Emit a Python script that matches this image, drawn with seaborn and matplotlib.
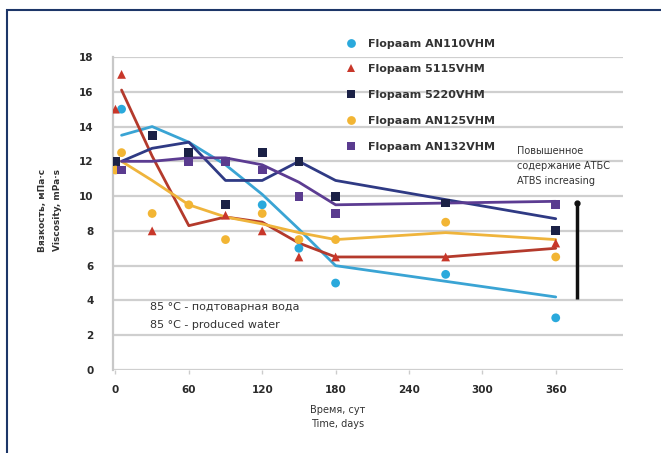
import matplotlib
matplotlib.use("Agg")
import matplotlib.pyplot as plt
import seaborn as sns
import pandas as pd
from matplotlib.patches import Rectangle

# ---- data ----
series_names = ["Flopaam AN110VHM", "Flopaam 5115VHM", "Flopaam 5220VHM",
                "Flopaam AN125VHM", "Flopaam AN132VHM"]
colors = ["#2aa9dc", "#c8372a", "#1b2146", "#f2b534", "#5a3b8f"]
line_colors = ["#3aa4d4", "#b43a2c", "#2f3a84", "#efb43c", "#5c3c92"]
markers = ["o", "^", "s", "o", "s"]

line_days = [5, 30, 60, 90, 120, 150, 180, 270, 360]
line_an110 = [13.5, 14.0, 13.1, 11.8, 10.1, 8.1, 6.0, 5.1, 4.2]
line_5115 = [16.1, 12.3, 8.3, 8.8, 8.5, 7.3, 6.5, 6.5, 7.0]
line_5220 = [12.0, 12.75, 13.1, 10.9, 10.9, 12.0, 10.9, 9.8, 8.7]
line_an125 = [12.0, 10.9, 9.5, 8.8, 8.4, 7.9, 7.5, 7.9, 7.5]
line_an132 = [12.0, 12.0, 12.2, 12.2, 11.8, 10.8, 9.5, 9.6, 9.7]

pts_an110_x = [5, 120, 150, 180, 270, 360]
pts_an110_y = [15.0, 9.5, 7.0, 5.0, 5.5, 3.0]
pts_5115_x = [0, 5, 30, 90, 120, 150, 180, 270, 360]
pts_5115_y = [15.0, 17.0, 8.0, 8.9, 8.0, 6.5, 6.5, 6.5, 7.3]
pts_5220_x = [0, 30, 60, 90, 120, 150, 180, 270, 360]
pts_5220_y = [12.0, 13.5, 12.5, 9.5, 12.5, 12.0, 10.0, 9.6, 8.0]
pts_an125_x = [0, 5, 30, 60, 90, 120, 150, 180, 270, 360]
pts_an125_y = [11.5, 12.5, 9.0, 9.5, 7.5, 9.0, 7.5, 7.5, 8.5, 6.5]
pts_an132_x = [5, 60, 90, 120, 150, 180, 360]
pts_an132_y = [11.5, 12.0, 12.0, 11.5, 10.0, 9.0, 9.5]

x_ticks = [0, 60, 120, 180, 240, 300, 360]
y_ticks = [0, 2, 4, 6, 8, 10, 12, 14, 16, 18]

atbs_day = 377
atbs_range = [4.1, 9.6]

# ---- build frames ----
line_vals = [line_an110, line_5115, line_5220, line_an125, line_an132]
pts = [(pts_an110_x, pts_an110_y), (pts_5115_x, pts_5115_y), (pts_5220_x, pts_5220_y),
       (pts_an125_x, pts_an125_y), (pts_an132_x, pts_an132_y)]
line_df = pd.concat([pd.DataFrame({"day": line_days, "visc": v, "series": n})
                     for n, v in zip(series_names, line_vals)], ignore_index=True)
pts_df = pd.concat([pd.DataFrame({"day": px, "visc": py, "series": n})
                    for n, (px, py) in zip(series_names, pts)], ignore_index=True)

sns.set_theme(style="whitegrid")
plt.rcParams["font.family"] = ["DejaVu Sans"]

fig = plt.figure(figsize=(6.61, 4.53), dpi=100)
ax = fig.add_axes([113/661, 1-370/453, (623-113)/661, (370-57)/453])

sns.lineplot(data=line_df, x="day", y="visc", hue="series", hue_order=series_names,
             palette=dict(zip(series_names, line_colors)), lw=2.0, legend=False, ax=ax,
             zorder=3)
sns.scatterplot(data=pts_df, x="day", y="visc", hue="series", style="series",
                hue_order=series_names, style_order=series_names,
                palette=dict(zip(series_names, colors)),
                markers=dict(zip(series_names, markers)), s=40, linewidth=0,
                ax=ax, zorder=4)

ax.set_xlim(-2, 415)
ax.set_ylim(0, 18)
ax.set_xticks(x_ticks)
ax.set_yticks(y_ticks)
ax.grid(axis="x", visible=False)
ax.grid(axis="y", color="#cfcfcf", lw=1.6)
ax.set_facecolor("white")
for s in ["top", "right", "bottom"]:
    ax.spines[s].set_visible(False)
ax.spines["left"].set_color("#c8c8c8")
ax.spines["left"].set_linewidth(1.6)
ax.tick_params(axis="both", labelsize=7.5, colors="#2a2a2a", pad=8)
ax.tick_params(axis="x", bottom=True, length=3, color="#cccccc", width=1)
for lab in ax.get_xticklabels() + ax.get_yticklabels():
    lab.set_fontweight("bold")
ax.set_xlabel("")
ax.set_ylabel("")

handles, labels = ax.get_legend_handles_labels()
ax.legend(handles, labels, loc="upper left", bbox_to_anchor=(0.522, 0.915),
          bbox_transform=fig.transFigure, frameon=False,
          prop={"weight": "bold", "size": 8}, labelspacing=1.42, handlelength=1.0,
          handletextpad=1.1, borderpad=0, borderaxespad=0, labelcolor="#333333")

# annotations
ax.text(28, 3.6, "85 °C - подтоварная вода", fontsize=8, color="#333333", va="center")
ax.text(28, 2.6, "85 °C - produced water", fontsize=8, color="#333333", va="center")
fig.text(517/661, 1-146/453, "Повышенное\nсодержание АТБС\nATBS increasing",
         fontsize=7, color="#333333", va="top", ha="left", linespacing=1.6)
ax.plot([atbs_day, atbs_day], atbs_range, color="#111111", lw=2.5, clip_on=False,
        solid_capstyle="butt")
ax.plot([atbs_day], [atbs_range[1]], marker="o", ms=3.5, color="#111111", clip_on=False)

fig.text(338/661, 1-410/453, "Время, сут", fontsize=7, color="#333333", ha="center", va="center")
fig.text(338/661, 1-424/453, "Time, days", fontsize=7, color="#333333", ha="center", va="center")
fig.text(42/661, 1-210/453, "Вязкость, мПа·с", fontsize=6.5, color="#333333", rotation=90,
         ha="center", va="center", fontweight="bold")
fig.text(58/661, 1-210/453, "Viscosity, mPa·s", fontsize=6.5, color="#333333", rotation=90,
         ha="center", va="center", fontweight="bold")

fig.patches.append(Rectangle((7/661, -0.2), 1.2, 1.2 - 10/453, transform=fig.transFigure,
                             fill=False, edgecolor="#1d3668", lw=1.5, clip_on=False))

fig.savefig("out.png", dpi=100)
